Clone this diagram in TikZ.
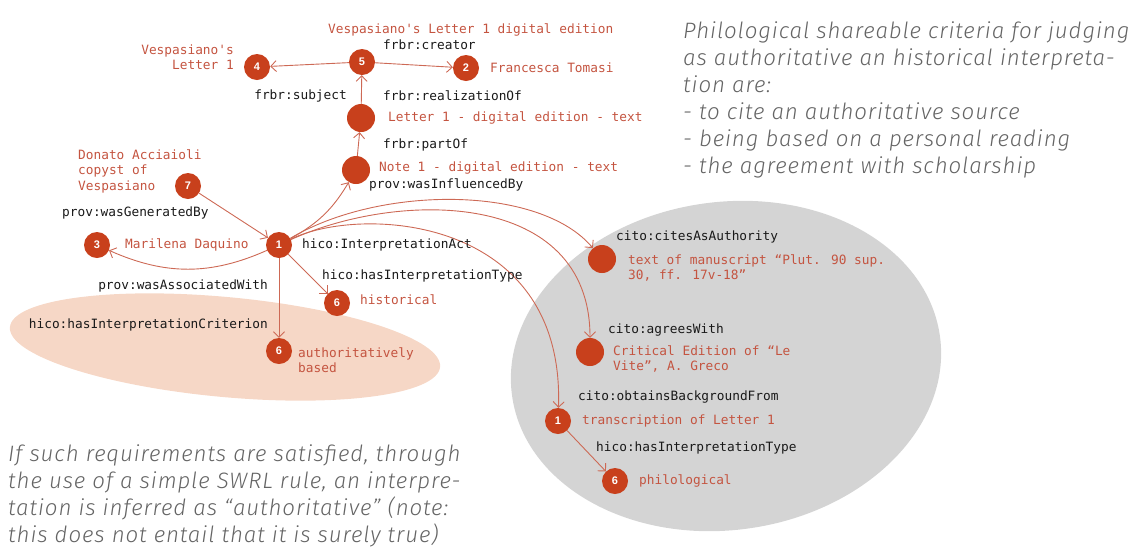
\documentclass[tikz,border=0pt]{standalone}
\usepackage{fontspec}
\setmainfont{DejaVu Sans}
\newfontfamily\monofont{DejaVu Sans Mono}
\newfontfamily\numfont{Liberation Sans}
\IfFontExistsTF{Fira Sans Light}{\newfontfamily\notefont[LetterSpace=4]{Fira Sans Light}}{\newfontfamily\notefont[LetterSpace=4]{Fira Sans}}
\usetikzlibrary{arrows.meta}
\definecolor{nodered}{RGB}{200,64,28}
\definecolor{valred}{RGB}{196,84,64}
\definecolor{linered}{RGB}{205,105,85}
\definecolor{peach}{RGB}{246,215,198}
\definecolor{greyfill}{RGB}{212,212,212}
\definecolor{labelblack}{RGB}{25,25,25}
\definecolor{notegrey}{RGB}{100,100,100}
\tikzset{
  num/.style={circle, fill=nodered, minimum size=26pt, inner sep=0pt, text=white, font=\numfont\bfseries\fontsize{11}{11}\selectfont},
  blank/.style={circle, fill=nodered, minimum size=28pt, inner sep=0pt},
  rel/.style={font=\monofont\fontsize{12.8}{15}\selectfont, text=labelblack, inner sep=0pt},
  val/.style={font=\monofont\fontsize{12.8}{15.5}\selectfont, text=valred, inner sep=0pt},
  conn/.style={draw=linered, line width=0.9pt, -{Straight Barb[length=5.5pt,width=11pt]}},
  note/.style={font=\notefont\itshape\fontsize{22.3}{27}\selectfont, text=notegrey, align=left, inner sep=0pt},
}
\begin{document}
\begin{tikzpicture}[x=1pt,y=1pt]
\useasboundingbox (0,0) rectangle (1144,-550);
% background areas
\fill[greyfill, rotate around={8:(726,-366)}] (726,-366) ellipse [x radius=216, y radius=164];
\fill[peach, rotate around={-5.3:(225,-347)}] (225,-347) ellipse [x radius=216, y radius=50];

% nodes
\node[num] (n5) at (362,-62) {5};
\node[num] (n4) at (257,-67) {4};
\node[num] (n2) at (466,-68) {2};
\node[blank] (L) at (361,-118) {};
\node[blank] (N) at (356,-170) {};
\node[num] (n7) at (188,-186) {7};
\node[num] (n1) at (279,-245) {1};
\node[num] (n3) at (97,-245) {3};
\node[num] (n6h) at (337,-303) {6};
\node[num] (n6a) at (279,-351) {6};
\node[blank] (M) at (602,-259) {};
\node[blank] (C) at (590,-352) {};
\node[num] (T) at (558,-421) {1};
\node[num] (P) at (615,-481) {6};

% connectors
\draw[conn] (n5) -- (n4);
\draw[conn] (n5) -- (n2);
\draw[conn] (L) -- (n5);
\draw[conn] (N) -- (L);
\draw[conn] (n1) to[bend right=15] (N);
\draw[conn] (n7) -- (n1);
\draw[conn] (n1) to[bend left=24] (n3);
\draw[conn] (n1) -- (n6h);
\draw[conn] (n1) -- (n6a);
\draw[conn] (n1) .. controls (380,-185) and (540,-185) .. (M);
\draw[conn] (n1) .. controls (400,-190) and (590,-190) .. (C);
\draw[conn] (n1) .. controls (360,-205) and (565,-215) .. (T);
\draw[conn] (T) -- (P);

% labels
\node[val, anchor=west] (t1) at (328,-30) {Vespasiano's Letter 1 digital edition};
\node[rel, anchor=west] (t2) at (383,-45) {frbr:creator};
\node[val, anchor=east, align=right] (t3) at (234,-57) {Vespasiano's\\Letter 1};
\node[val, anchor=west] (t4) at (490,-68) {Francesca Tomasi};
\node[rel, anchor=east] (t5) at (347,-96) {frbr:subject};
\node[rel, anchor=west] (t6) at (383,-96) {frbr:realizationOf};
\node[val, anchor=west] (t7) at (388,-118) {Letter 1 - digital edition - text};
\node[rel, anchor=west] (t8) at (383,-145) {frbr:partOf};
\node[val, anchor=west] (t9) at (379,-168) {Note 1 - digital edition - text};
\node[rel, anchor=west] (t10) at (369,-185) {prov:wasInfluencedBy};
\node[val, anchor=west, align=left] (t11) at (78,-171) {Donato Acciaioli\\copyst of\\Vespasiano};
\node[rel, anchor=west] (t12) at (62,-213) {prov:wasGeneratedBy};
\node[val, anchor=west] (t13) at (125,-245) {Marilena Daquino};
\node[rel, anchor=west] (t14) at (302,-245) {hico:InterpretationAct};
\node[rel, anchor=west] (t15) at (322,-276) {hico:hasInterpretationType};
\node[val, anchor=west] (t16) at (360,-300) {historical};
\node[rel, anchor=east] (t17) at (268,-286) {prov:wasAssociatedWith};
\node[rel, anchor=east] (t18) at (268,-325) {hico:hasInterpretationCriterion};
\node[val, anchor=west, align=left] (t19) at (298,-360) {authoritatively\\based};
\node[rel, anchor=west] (t20) at (616,-237) {cito:citesAsAuthority};
\node[val, anchor=west, align=left] (t21) at (628,-268) {text of manuscript “Plut. 90 sup.\\30, ff. 17v-18”};
\node[rel, anchor=west] (t22) at (608,-330) {cito:agreesWith};
\node[val, anchor=west, align=left] (t23) at (613,-359) {Critical Edition of “Le\\Vite”, A. Greco};
\node[rel, anchor=west] (t24) at (578,-397) {cito:obtainsBackgroundFrom};
\node[val, anchor=west] (t25) at (582,-421) {transcription of Letter 1};
\node[rel, anchor=west] (t26) at (596,-448) {hico:hasInterpretationType};
\node[val, anchor=west] (t27) at (639,-481) {philological};

% notes
\node[note, anchor=north west] (r) at (683,-22) {Philological shareable criteria for judging\\as authoritative an historical interpreta-\\tion are:\\- to cite an authoritative source\\- being based on a personal reading\\- the agreement with scholarship};
\node[note, anchor=north west] (b) at (8,-444) {If such requirements are satisfied, through\\the use of a simple SWRL rule, an interpre-\\tation is inferred as “authoritative” (note:\\this does not entail that it is surely true)};
\end{tikzpicture}
\end{document}
